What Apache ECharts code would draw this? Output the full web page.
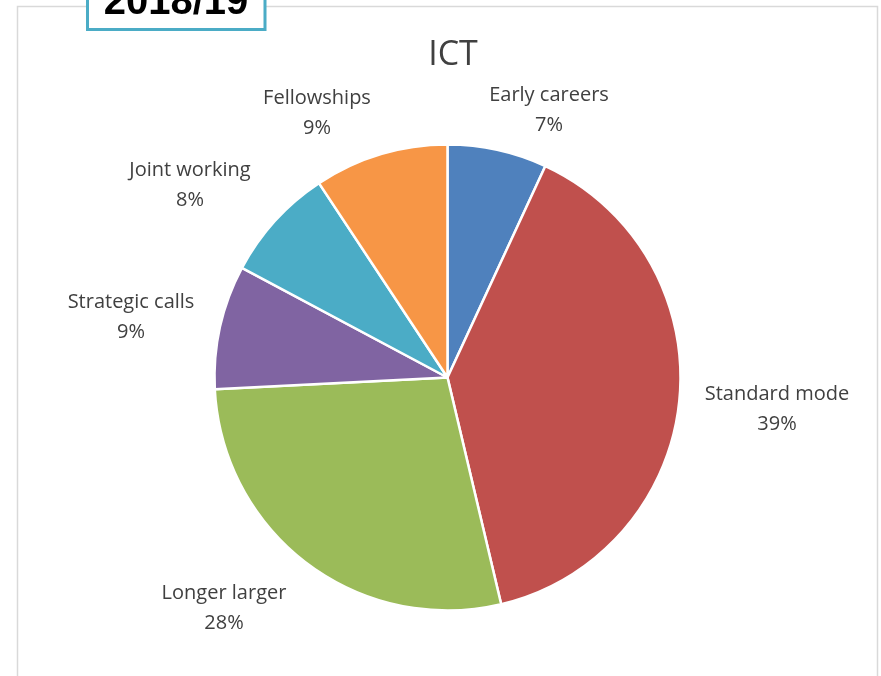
<!DOCTYPE html>
<html>
<head>
<meta charset="utf-8">
<script src="https://cdn.jsdelivr.net/npm/echarts@6/dist/echarts.min.js"></script>
<style>
html,body{margin:0;padding:0;background:#fff;}
#c{width:881px;height:676px;}
</style>
</head>
<body>
<div id="c"></div>
<script>
// Data
const categories = ['Early careers', 'Standard mode', 'Longer larger', 'Strategic calls', 'Joint working', 'Fellowships'];
const values = [6.9, 39.4, 27.9, 8.6, 7.9, 9.3];
const colors = ['#4F81BD', '#C0504D', '#9BBB59', '#8064A2', '#4BACC6', '#F79646'];
const chartTitle = 'ICT';
const yearTag = '2018/19';

// Label anchor positions (text centre), in pixels
const labelPos = [[549, 110], [777, 409], [224, 608], [131, 317], [190, 185], [317, 113]];

const chart = echarts.init(document.getElementById('c'), null, {renderer: 'canvas'});
const total = values.reduce((a, b) => a + b, 0);

chart.setOption({
  animation: false,
  backgroundColor: '#ffffff',
  title: {
    text: chartTitle,
    left: 448, top: 50,
    textAlign: 'center', textVerticalAlign: 'middle',
    textStyle: {fontFamily: 'Open Sans', fontSize: 34, fontWeight: 'normal', color: '#404040'}
  },
  graphic: [
    {type: 'rect', shape: {x: 17.5, y: 6.5, width: 860, height: 700}, style: {fill: 'none', stroke: '#d9d9d9', lineWidth: 1.5}, z: -10},
    {type: 'rect', shape: {x: 87.5, y: -30, width: 177.5, height: 59.5}, style: {fill: '#ffffff', stroke: '#4BACC6', lineWidth: 3}, z: 10},
    {type: 'text', x: 176, y: 23, style: {text: yearTag, fill: '#000000', font: 'bold 40px "Liberation Sans", Arial, sans-serif', textAlign: 'center', textVerticalAlign: 'bottom'}, z: 11}
  ],
  series: [{
    type: 'pie',
    center: [447.5, 377.5],
    radius: [0, 233],
    startAngle: 90,
    clockwise: true,
    avoidLabelOverlap: false,
    itemStyle: {borderColor: '#ffffff', borderWidth: 2.5},
    label: {
      show: true,
      position: 'outside',
      formatter: (p) => p.name + '\n' + Math.round(p.value / total * 100) + '%',
      fontFamily: 'Open Sans',
      fontSize: 20,
      lineHeight: 30,
      color: '#404040',
      align: 'center'
    },
    labelLine: {show: false},
    labelLayout: (p) => ({x: labelPos[p.dataIndex][0], y: labelPos[p.dataIndex][1], align: 'center', verticalAlign: 'middle'}),
    data: categories.map((c, i) => ({name: c, value: values[i], itemStyle: {color: colors[i]}}))
  }]
});
</script>
</body>
</html>
